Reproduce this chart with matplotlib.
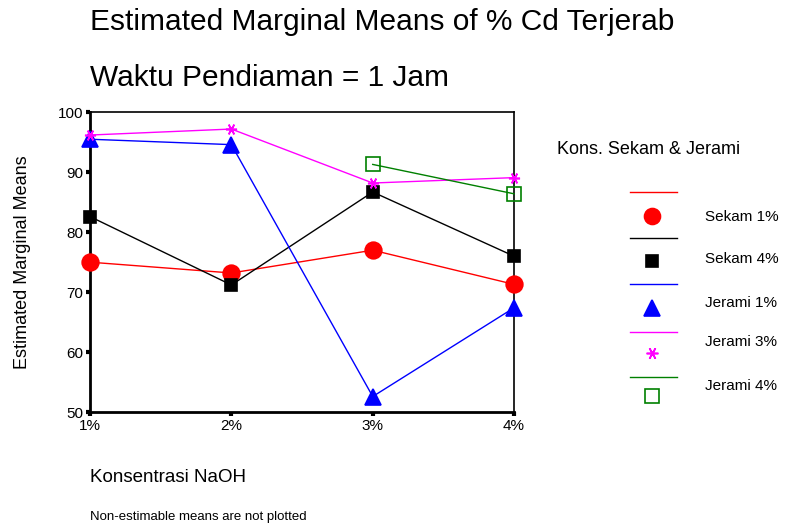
import numpy as np
import matplotlib.pyplot as plt
from matplotlib.lines import Line2D

plt.rcParams['font.family'] = ['Liberation Sans', 'DejaVu Sans']

naoh = ['1%', '2%', '3%', '4%']
sekam_1 = [75.0, 73.2, 77.0, 71.3]
sekam_4 = [82.6, 71.2, 86.7, 76.0]
jerami_1 = [95.5, 94.6, 52.6, 67.4]
jerami_3 = [96.2, 97.2, 88.2, 89.1]
jerami_4 = [np.nan, np.nan, 91.3, 86.4]

# name, values, colour, marker, size in plot, size in legend, face
series = [
    ('Sekam 1%', sekam_1, 'red', 'o', 12, 11.5, 'red'),
    ('Sekam 4%', sekam_4, 'black', 's', 8.5, 9, 'black'),
    ('Jerami 1%', jerami_1, 'blue', '^', 12, 12, 'blue'),
    ('Jerami 3%', jerami_3, 'magenta', (6, 2, 30), 8, 8.5, 'magenta'),
    ('Jerami 4%', jerami_4, 'green', 's', 9.5, 9.5, 'none'),
]

# legend rows (pixel rows of the line sample, marker sample, label)
leg_line_y = [192, 238, 284, 332, 377]
leg_mark_y = [216, 261, 308, 353, 396]
leg_text_y = [217, 259, 303, 342, 386]


def main():
    fig = plt.figure(figsize=(7.97, 5.27), dpi=100)
    ax = fig.add_axes([0.113, 0.218, 0.532, 0.569])
    x = np.arange(len(naoh))
    for name, vals, col, mk, ms, lms, fc in series:
        ax.plot(x, vals, color=col, lw=1.0, marker=mk, ms=ms,
                mfc=fc, mec=col, mew=1.2, clip_on=False, zorder=3)
    ax.set_xlim(0, 3)
    ax.set_ylim(50, 100)
    ax.set_xticks(x)
    ax.set_xticklabels(naoh)
    ax.set_yticks([50, 60, 70, 80, 90, 100])
    ax.tick_params(direction='out', length=3, width=3, labelsize=11, pad=2)
    for s in ['left', 'bottom']:
        ax.spines[s].set_linewidth(2)
    for s in ['top', 'right']:
        ax.spines[s].set_linewidth(1.2)
    ax.set_ylabel('Estimated Marginal Means', fontsize=13, labelpad=19)

    fig.text(90 / 797, 1 - 22 / 527, 'Estimated Marginal Means of % Cd Terjerab',
             fontsize=21.5, va='center', ha='left')
    fig.text(90 / 797, 1 - 78 / 527, 'Waktu Pendiaman = 1 Jam',
             fontsize=21.5, va='center', ha='left')
    fig.text(90 / 797, 1 - 478 / 527, 'Konsentrasi NaOH', fontsize=13.5, va='center')
    fig.text(90 / 797, 1 - 517 / 527, 'Non-estimable means are not plotted',
             fontsize=9.5, va='center')

    # legend in SPSS style: line sample above marker sample
    fig.text(557 / 797, 1 - 150 / 527, 'Kons. Sekam & Jerami', fontsize=13, va='center')
    for i, (name, vals, col, mk, ms, lms, fc) in enumerate(series):
        ly = 1 - leg_line_y[i] / 527
        my = 1 - leg_mark_y[i] / 527
        fig.add_artist(Line2D([630 / 797, 677 / 797], [ly, ly], color=col, lw=1.0))
        fig.add_artist(Line2D([652 / 797], [my], marker=mk, ms=lms, color=col,
                              mfc=fc, mec=col, mew=1.2, ls='none'))
        fig.text(705 / 797, 1 - leg_text_y[i] / 527, name, fontsize=11, va='center')

    fig.savefig('out.png', dpi=100)


if __name__ == '__main__':
    main()
